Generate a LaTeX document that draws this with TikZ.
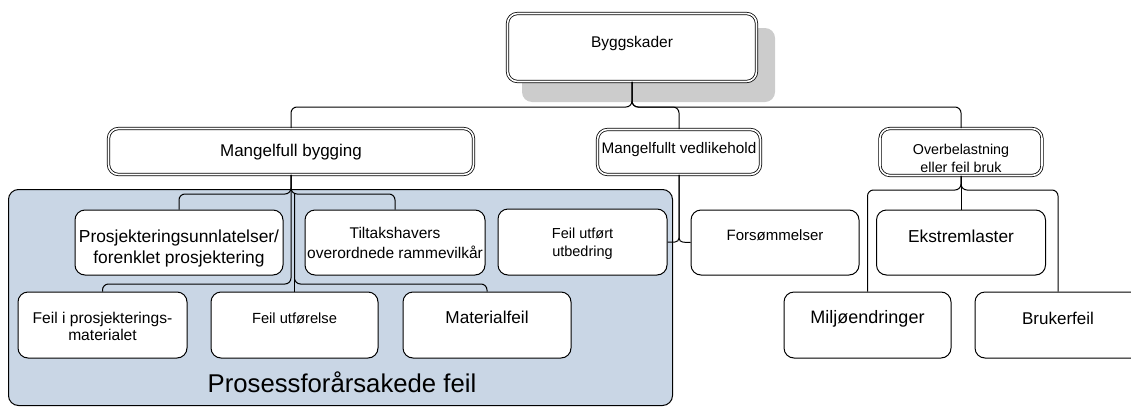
\documentclass[tikz,border=0pt]{standalone}
\usepackage{fontspec}
\setmainfont{Liberation Sans}
\usetikzlibrary{calc}
\definecolor{panelblue}{RGB}{201,214,229}
\definecolor{shadowgray}{RGB}{204,204,204}
\tikzset{
  dbox/.style={draw, double, double distance=1.6pt, line width=0.8pt,
    rounded corners=10pt, fill=white, inner sep=0pt},
  sbox/.style={draw, line width=1pt, rounded corners=10pt, fill=white, inner sep=0pt},
  conn/.style={draw, line width=1pt, rounded corners=6pt},
  lbl/.style={inner sep=0pt, anchor=base, align=center},
}
\newcommand{\fsz}[2]{\fontsize{#1}{#2}\selectfont}
\begin{document}
\begin{tikzpicture}[x=1pt,y=-1pt]
\useasboundingbox (0,0) rectangle (1131,407);
\clip (0,0) rectangle (1131,407);

% shadow behind the root box
\fill[shadowgray, rounded corners=10pt] (522,28) rectangle (775,102);

% root and first level
\node[dbox, minimum width=249pt, minimum height=68pt] (root) at (632,47.5) {};
\node[dbox, minimum width=365pt, minimum height=46pt] (mb) at (291,151.5) {};
\node[dbox, minimum width=163pt, minimum height=45pt] (mv) at (679,152) {};
\node[dbox, minimum width=162pt, minimum height=47pt] (ob) at (961,152) {};

% process panel
\node[draw, line width=1pt, fill=panelblue, rounded corners=10pt, inner sep=0pt,
      minimum width=664pt, minimum height=216pt] (panel) at (340.5,297.5) {};

% second level boxes
\node[sbox, minimum width=208pt, minimum height=65pt] (prj) at (179,242.5) {};
\node[sbox, minimum width=180pt, minimum height=65pt] (tilt) at (395,242.5) {};
\node[sbox, minimum width=169pt, minimum height=66pt] (feu) at (582.5,242) {};
\node[sbox, minimum width=168pt, minimum height=65pt] (fors) at (775,242.5) {};
\node[sbox, minimum width=169pt, minimum height=65pt] (eks) at (961,242.5) {};
\node[sbox, minimum width=169pt, minimum height=66pt] (fip) at (102.5,325) {};
\node[sbox, minimum width=167pt, minimum height=66pt] (fut) at (294.5,325) {};
\node[sbox, minimum width=168pt, minimum height=66pt] (mat) at (487,325) {};
\node[sbox, minimum width=167pt, minimum height=66pt] (mil) at (867.5,325) {};
\node[sbox, minimum width=166pt, minimum height=66pt] (bru) at (1058,325) {};

% junction points
\coordinate (j0) at (632,107);
\coordinate (j1) at (291,194);
\coordinate (j2) at (291,284);
\coordinate (j4) at (679,242);
\coordinate (j5) at (961,190);

% connectors
\draw[conn] (root.south) -- (j0) -| (mb.north);
\draw[conn] (root.south) -- (j0) -| (mv.north);
\draw[conn] (root.south) -- (j0) -| (ob.north);

\draw[conn] (mb.south) -- (j1) -| (prj.north);
\draw[conn] (mb.south) -- (j1) -| (tilt.north);
\draw[conn] (mb.south) -- (j2) -| (fip.north);
\draw[conn] (fut.north |- j1) -- (fut.north);
\draw[conn] (fut.north |- j1) -- (fut.north |- j2) -| (mat.north);

\draw[conn, rounded corners=4pt] (mv.south) -- (j4) -- (feu.east);
\draw[conn, rounded corners=4pt] (mv.south) -- (j4) -- (fors.west);

\draw[conn] (ob.south) -- (j5) -| (mil.north);
\draw[conn] (ob.south) -- (j5) -| (bru.north);
\draw[conn] (ob.south) -- (eks.north);

% labels (multi-line labels sit on the baseline of their last line)
\node[lbl, font=\fsz{15.5}{18}] (t-root) at (632,47) {Byggskader};
\node[lbl, font=\fsz{17}{20}] (t-mb) at (291,156) {Mangelfull bygging};
\node[lbl, font=\fsz{15.3}{18}] (t-mv) at (679,153) {Mangelfullt vedlikehold};
\node[lbl, font=\fsz{14.3}{18}] (t-ob) at (961,172) {Overbelastning\\eller feil bruk};
\node[lbl, font=\fsz{17.4}{21}] (t-prj) at (179,263) {Prosjekteringsunnlatelser/\\forenklet prosjektering};
\node[lbl, font=\fsz{15.5}{20}] (t-tilt) at (395,258) {Tiltakshavers\\overordnede rammevilkår};
\node[lbl, font=\fsz{14.5}{18}] (t-feu) at (582.5,256) {Feil utført\\utbedring};
\node[lbl, font=\fsz{15}{18}] (t-fors) at (775,240) {Forsømmelser};
\node[lbl, font=\fsz{17.3}{20}] (t-eks) at (961,242) {Ekstremlaster};
\node[lbl, font=\fsz{15.6}{17}] (t-fip) at (102.5,340) {Feil i prosjekterings-\\materialet};
\node[lbl, font=\fsz{14.7}{18}] (t-fut) at (294.5,323) {Feil utførelse};
\node[lbl, font=\fsz{17.2}{20}] (t-mat) at (487,323) {Materialfeil};
\node[lbl, font=\fsz{18}{20}] (t-mil) at (867.5,323) {Miljøendringer};
\node[lbl, font=\fsz{17}{20}] (t-bru) at (1058,324) {Brukerfeil};
\node[lbl, font=\fsz{25.7}{30}] (t-panel) at (342,392) {Prosessforårsakede feil};
\end{tikzpicture}
\end{document}
